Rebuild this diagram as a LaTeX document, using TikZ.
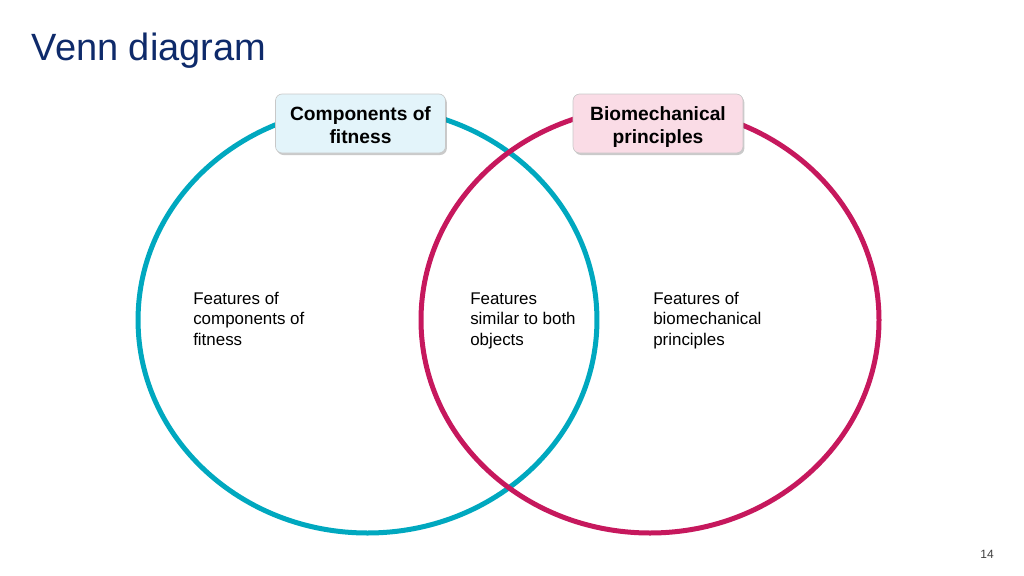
\documentclass[tikz,border=0pt]{standalone}
\usepackage{fontspec}
\setmainfont{Liberation Sans}
\usetikzlibrary{shadows}
\definecolor{venteal}{HTML}{00A8BF}
\definecolor{venmag}{HTML}{C6185D}
\definecolor{titleblue}{HTML}{0E2A6A}
\definecolor{boxblue}{HTML}{E3F4FA}
\definecolor{boxpink}{HTML}{FADCE6}
\definecolor{boxline}{HTML}{C8C8C8}
\tikzset{
  ring/.style={line width=3.75pt},
  labelbox/.style={draw=boxline, line width=0.5pt, rounded corners=5pt,
    minimum width=127.5pt, minimum height=44.25pt, inner sep=0pt,
    font=\fontsize{14.4pt}{16.9pt}\selectfont\bfseries,
    drop shadow={shadow xshift=1pt, shadow yshift=-1.5pt, opacity=0.35, fill=black!60}},
  bodytext/.style={anchor=base west, inner sep=0pt,
    font=\fontsize{12.7pt}{15.4pt}\selectfont}
}
\newcommand{\lines}[1]{\begin{tabular}[t]{@{}l@{}}#1\end{tabular}}
\newcommand{\boxlines}[1]{\raisebox{-3pt}[\height][\depth]{\begin{tabular}{@{}c@{}}#1\end{tabular}}}
\begin{document}
\begin{tikzpicture}[x=0.75pt,y=-0.75pt]
  \useasboundingbox (0,0) rectangle (1024,575);
  \node[anchor=base west, inner sep=0pt, text=titleblue,
    font=\fontsize{28.5pt}{34pt}\selectfont] (title) at (31.5,60) {Venn diagram};
  \draw[ring, venteal] (367.5,320) ellipse [x radius=172.1pt, y radius=159.75pt];
  \draw[ring, venmag] (650,320) ellipse [x radius=171.75pt, y radius=159.75pt];
  \node[labelbox, fill=boxblue] (comp) at (360.5,123.5) {\boxlines{Components of\\fitness}};
  \node[labelbox, fill=boxpink] (bio) at (658,123.5) {\boxlines{Biomechanical\\principles}};
  \node[bodytext] (left) at (193,304) {\lines{Features of\\components of\\fitness}};
  \node[bodytext] (mid) at (470,304) {\lines{Features\\similar to both\\objects}};
  \node[bodytext] (right) at (653,304) {\lines{Features of\\biomechanical\\principles}};
  \node[anchor=base east, inner sep=0pt, text=black!75,
    font=\fontsize{9pt}{11pt}\selectfont] (page) at (994,558) {14};
\end{tikzpicture}
\end{document}
